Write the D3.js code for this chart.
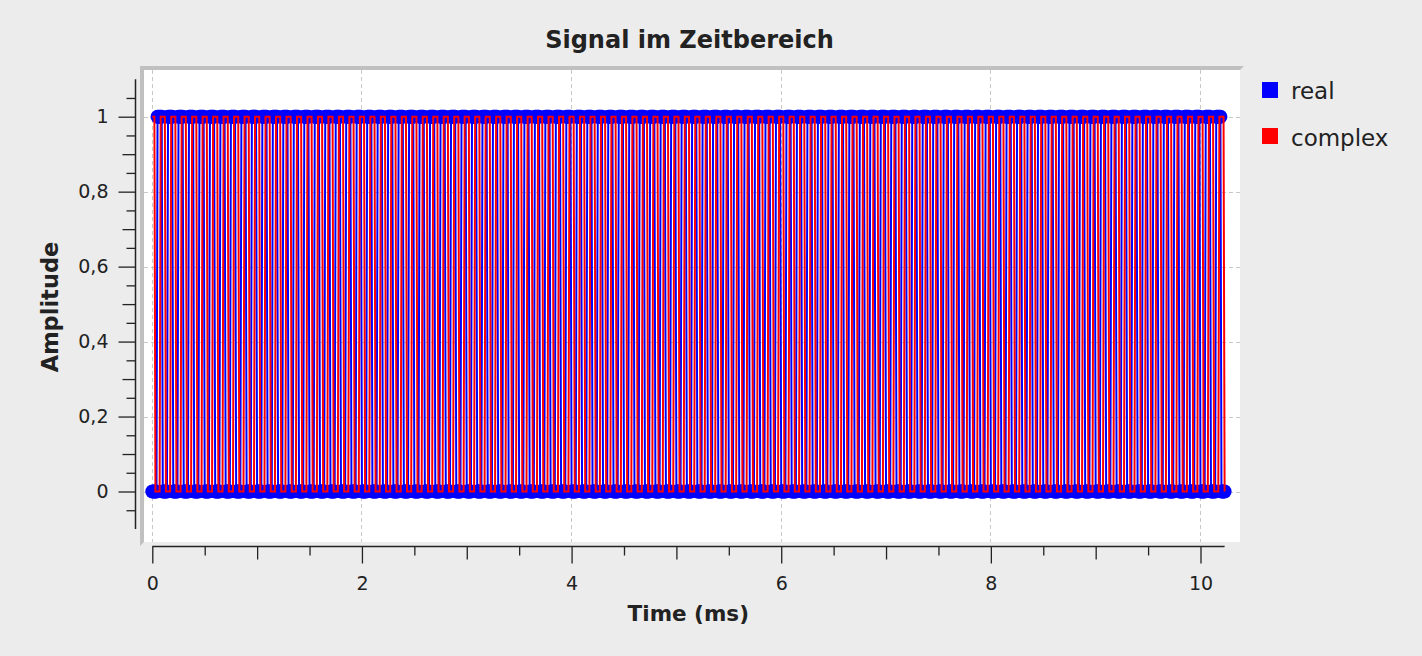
<!DOCTYPE html>
<html>
<head>
<meta charset="utf-8">
<script src="https://cdn.jsdelivr.net/npm/d3@7"></script>
<style>
  html, body { margin: 0; padding: 0; background: #ececec; }
  svg { display: block; }
  text { font-family: "DejaVu Sans", sans-serif; fill: #222; }
</style>
</head>
<body>
<svg id="chart" width="1422" height="656"></svg>
<script>
// ---------------- DATA ----------------
const titleText = "Signal im Zeitbereich";
const xLabel = "Time (ms)";
const yLabel = "Amplitude";
const seriesNames = ["real", "complex"];
const seriesColors = ["#0000ff", "#ff0000"];
const sampleIntervalMs = 0.01;          // 1024 samples over 10.24 ms
const xTickValues = [0, 2, 4, 6, 8, 10];
const yTickValues = [0, 0.2, 0.4, 0.6, 0.8, 1];

// sample values, one character per sample (0 / 1), 10 samples per group
const realSamples = (
  "0000011111 0000011111 0000011111 0000011111 0000011111 0000011111 0000011111 0000011111 0000011111 0000011111 " +
  "0000011111 0000011111 0000011111 0000011111 0000011111 0000011111 0000011111 0000011111 0000011111 0000011111 " +
  "0000011111 0000011111 0000011111 0000011111 0000011111 0000011111 0000011111 0000011111 0000011111 0000011111 " +
  "0000011111 0000011111 0000011111 0000011111 0000011111 0000011111 0000011111 0000011111 0000011111 0000011111 " +
  "0000011111 0000011111 0000011111 0000011111 0000011111 0000011111 0000011111 0000011111 0000011111 0000011111 " +
  "0000011111 0000011111 0000011111 0000011111 0000011111 0000011111 0000011111 0000011111 0000011111 0000011111 " +
  "0000011111 0000011111 0000011111 0000011111 0000011111 0000011111 0000011111 0000011111 0000011111 0000011111 " +
  "0000011111 0000011111 0000011111 0000011111 0000011111 0000011111 0000011111 0000011111 0000011111 0000011111 " +
  "0000011111 0000011111 0000011111 0000011111 0000011111 0000011111 0000011111 0000011111 0000011111 0000011111 " +
  "0000011111 0000011111 0000011111 0000011111 0000011111 0000011111 0000011111 0000011111 0000011111 0000011111 " +
  "0000011111 0000011111 0000"
).replace(/\s+/g, "").split("").map(Number);

const complexSamples = (
  "1110000011 1110000011 1110000011 1110000011 1110000011 1110000011 1110000011 1110000011 1110000011 1110000011 " +
  "1110000011 1110000011 1110000011 1110000011 1110000011 1110000011 1110000011 1110000011 1110000011 1110000011 " +
  "1110000011 1110000011 1110000011 1110000011 1110000011 1110000011 1110000011 1110000011 1110000011 1110000011 " +
  "1110000011 1110000011 1110000011 1110000011 1110000011 1110000011 1110000011 1110000011 1110000011 1110000011 " +
  "1110000011 1110000011 1110000011 1110000011 1110000011 1110000011 1110000011 1110000011 1110000011 1110000011 " +
  "1110000011 1110000011 1110000011 1110000011 1110000011 1110000011 1110000011 1110000011 1110000011 1110000011 " +
  "1110000011 1110000011 1110000011 1110000011 1110000011 1110000011 1110000011 1110000011 1110000011 1110000011 " +
  "1110000011 1110000011 1110000011 1110000011 1110000011 1110000011 1110000011 1110000011 1110000011 1110000011 " +
  "1110000011 1110000011 1110000011 1110000011 1110000011 1110000011 1110000011 1110000011 1110000011 1110000011 " +
  "1110000011 1110000011 1110000011 1110000011 1110000011 1110000011 1110000011 1110000011 1110000011 1110000011 " +
  "1110000011 1110000011 1110"
).replace(/\s+/g, "").split("").map(Number);

// ---------------- LAYOUT ----------------
const svg = d3.select("#chart");
const canvas = { x0: 144, y0: 70, x1: 1240, y1: 542 };

const x = d3.scaleLinear().domain([0, 10]).range([152.3, 1200.5]);
const y = d3.scaleLinear().domain([0, 1]).range([491.5, 116.7]);

const realData = realSamples.map((v, i) => ({ t: i * sampleIntervalMs, v }));
const complexData = complexSamples.map((v, i) => ({ t: i * sampleIntervalMs, v }));
const tMax = (realData.length - 1) * sampleIntervalMs;

// frame (sunken look) and canvas
svg.append("polygon")
  .attr("points", `${canvas.x0-4},${canvas.y0-4} ${canvas.x1+4},${canvas.y0-4} ${canvas.x1},${canvas.y0} ${canvas.x0},${canvas.y0} ${canvas.x0},${canvas.y1} ${canvas.x0-4},${canvas.y1+4}`)
  .attr("fill", "#c0c0c0");
svg.append("rect")
  .attr("x", canvas.x0).attr("y", canvas.y0)
  .attr("width", canvas.x1 - canvas.x0).attr("height", canvas.y1 - canvas.y0)
  .attr("fill", "#ffffff");

svg.append("clipPath").attr("id", "clip")
  .append("rect")
  .attr("x", canvas.x0).attr("y", canvas.y0)
  .attr("width", canvas.x1 - canvas.x0).attr("height", canvas.y1 - canvas.y0);

// grid
const grid = svg.append("g").attr("clip-path", "url(#clip)");
grid.selectAll("line.gx").data(xTickValues).join("line")
  .attr("x1", d => x(d)).attr("x2", d => x(d))
  .attr("y1", canvas.y0).attr("y2", canvas.y1)
  .attr("stroke", "#c8c8c8").attr("stroke-width", 1).attr("stroke-dasharray", "4,3")
  .attr("shape-rendering", "crispEdges");
grid.selectAll("line.gy").data(yTickValues).join("line")
  .attr("y1", d => Math.round(y(d)) + 0.5).attr("y2", d => Math.round(y(d)) + 0.5)
  .attr("x1", canvas.x0).attr("x2", canvas.x1)
  .attr("stroke", "#c8c8c8").attr("stroke-width", 1).attr("stroke-dasharray", "4,3");

// data
const plot = svg.append("g").attr("clip-path", "url(#clip)");
const line = d3.line().x(d => x(d.t)).y(d => y(d.v));

plot.append("path").datum(realData)
  .attr("d", line).attr("fill", "none")
  .attr("stroke", seriesColors[0]).attr("stroke-width", 2);
plot.append("g").selectAll("circle").data(realData).join("circle")
  .attr("cx", d => x(d.t)).attr("cy", d => y(d.v)).attr("r", 7)
  .attr("fill", seriesColors[0]);

plot.append("path").datum(complexData)
  .attr("d", line).attr("fill", "none")
  .attr("stroke", seriesColors[1]).attr("stroke-width", 2);

// axes
const fmt = d3.formatLocale({ decimal: ",", thousands: ".", grouping: [3], currency: ["", "€"] }).format("~g");
const axisColor = "#222";
const xAxisY = 546.5, yAxisX = 135.5;

function styleAxis(g) {
  g.select(".domain").remove();
  g.selectAll(".tick line").attr("stroke", axisColor).attr("stroke-width", 1.3);
  g.selectAll(".tick text").attr("fill", "#222").style("font-family", "DejaVu Sans, sans-serif").style("font-size", "19px");
}

// x axis
const xg = svg.append("g").attr("transform", `translate(0,${xAxisY})`);
xg.append("g").call(d3.axisBottom(x).tickValues(d3.range(0.5, tMax, 1)).tickSize(9).tickFormat("")).call(styleAxis);
xg.append("g").call(d3.axisBottom(x).tickValues([1, 3, 5, 7, 9]).tickSize(13).tickFormat("")).call(styleAxis);
xg.append("g").call(d3.axisBottom(x).tickValues(xTickValues).tickSize(17).tickPadding(13.5).tickFormat(fmt)).call(styleAxis);
xg.append("line").attr("x1", x(0)).attr("x2", x(tMax)).attr("y1", 0).attr("y2", 0)
  .attr("stroke", axisColor).attr("stroke-width", 1.5);

// y axis
const yg = svg.append("g").attr("transform", `translate(${yAxisX},0)`);
const yMinor = [-0.05, 0.05, 0.15, 0.25, 0.35, 0.45, 0.55, 0.65, 0.75, 0.85, 0.95, 1.05];
const yMedium = [0.1, 0.3, 0.5, 0.7, 0.9];
yg.append("g").call(d3.axisLeft(y).tickValues(yMinor).tickSize(9).tickFormat("")).call(styleAxis);
yg.append("g").call(d3.axisLeft(y).tickValues(yMedium).tickSize(13).tickFormat("")).call(styleAxis);
yg.append("g").call(d3.axisLeft(y).tickValues(yTickValues).tickSize(17).tickPadding(10).tickFormat(fmt)).call(styleAxis);
yg.append("line").attr("x1", 0).attr("x2", 0).attr("y1", y(1.1)).attr("y2", y(-0.1))
  .attr("stroke", axisColor).attr("stroke-width", 1.5);

// titles
svg.append("text").attr("x", 689.5).attr("y", 48).attr("text-anchor", "middle")
  .style("font-weight", "bold").style("font-size", "24px").text(titleText);
svg.append("text").attr("x", 688.3).attr("y", 621).attr("text-anchor", "middle")
  .style("font-weight", "bold").style("font-size", "21.5px").text(xLabel);
svg.append("text").attr("transform", "translate(57.5,307) rotate(-90)").attr("text-anchor", "middle")
  .style("font-weight", "bold").style("font-size", "22.5px").text(yLabel);

// legend
const legend = svg.append("g");
const legendRows = seriesNames.map((n, i) => ({ name: n, color: seriesColors[i], top: [82, 128][i], base: [99, 146][i] }));
legend.selectAll("rect").data(legendRows).join("rect")
  .attr("x", 1262).attr("y", d => d.top).attr("width", 16).attr("height", 16).attr("fill", d => d.color);
legend.selectAll("text").data(legendRows).join("text")
  .attr("x", 1291).attr("y", d => d.base).style("font-size", "23px").text(d => d.name);
</script>
</body>
</html>
